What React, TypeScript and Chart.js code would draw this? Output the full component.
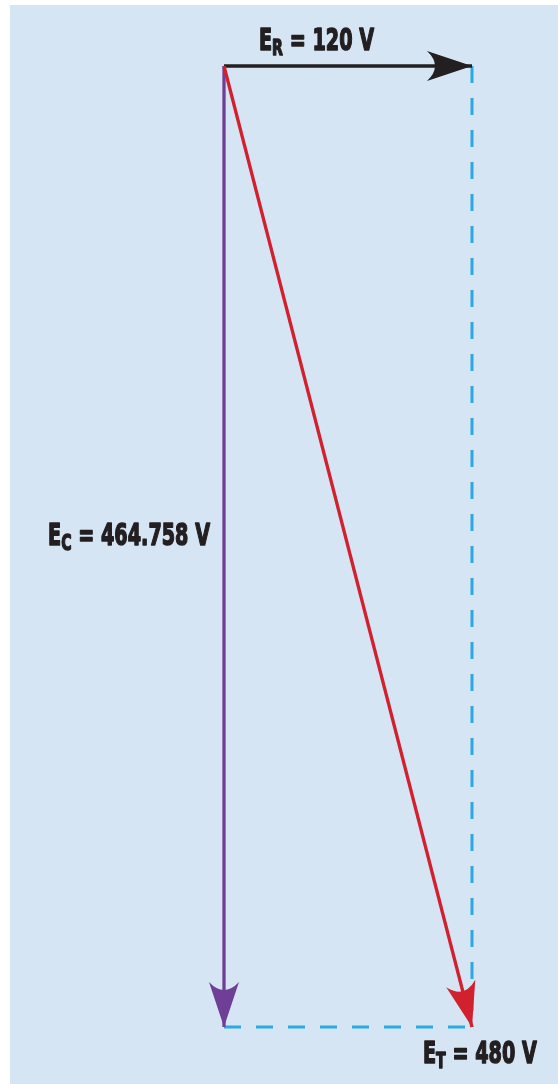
import React, { useEffect, useRef } from 'react';
import { Chart, registerables } from 'chart.js';
Chart.register(...registerables);

// Phasor values (volts)
const resistiveX = [0, 120];
const resistiveY = [0, 0];
const capacitiveX = [0, 0];
const capacitiveY = [0, -464.758];
const totalX = [0, 120];
const totalY = [0, -464.758];
const projHorizX = [0, 120];
const projHorizY = [-464.758, -464.758];
const projVertX = [120, 120];
const projVertY = [0, -464.758];

// Labels
const labelMain = ['E', 'E', 'E'];
const labelSub = ['R', 'C', 'T'];
const labelValue = [' = 120 V', ' = 464.758 V', ' = 480 V'];
const labelAnchorX = [0, 0, 120];
const labelAnchorY = [0, -232.379, -464.758];

const pts = (xs: number[], ys: number[]) => xs.map((x, i) => ({ x, y: ys[i] }));

const COLORS = {
  panel: '#d5e5f4',
  black: '#231f20',
  purple: '#6f3f98',
  red: '#d2212e',
  dash: '#29aae2',
};

const arrowPlugin = {
  id: 'arrowHeads',
  afterDatasetsDraw(chart: any) {
    const ctx = chart.ctx;
    chart.data.datasets.forEach((ds: any, i: number) => {
      if (!ds.arrowColor) return;
      const meta = chart.getDatasetMeta(i);
      const n = meta.data.length;
      const p0 = meta.data[n - 2];
      const p1 = meta.data[n - 1];
      const dx = p1.x - p0.x;
      const dy = p1.y - p0.y;
      const len = Math.hypot(dx, dy);
      const ux = dx / len, uy = dy / len;
      const nx = -uy, ny = ux;
      const L = 45, W = 15, notch = 16;
      const tx = p1.x, ty = p1.y;
      const bx = tx - L * ux, by = ty - L * uy;
      ctx.save();
      ctx.fillStyle = ds.arrowColor;
      ctx.beginPath();
      ctx.moveTo(tx, ty);
      ctx.lineTo(bx + W * nx, by + W * ny);
      ctx.quadraticCurveTo(tx - (L - notch) * ux, ty - (L - notch) * uy, bx - W * nx, by - W * ny);
      ctx.closePath();
      ctx.fill();
      ctx.restore();
    });
  },
};

const labelPlugin = {
  id: 'phasorLabels',
  afterDraw(chart: any) {
    const ctx = chart.ctx;
    const xs = chart.scales.x;
    const ys = chart.scales.y;
    const mainFont = 'bold 30px "DejaVu Sans", sans-serif';
    const subFont = 'bold 22px "DejaVu Sans", sans-serif';
    const squeeze = 0.64;
    const offsets = [
      { dx: 35, dy: -16, align: 'left' },
      { dx: -14, dy: -2, align: 'right' },
      { dx: -49, dy: 36, align: 'left' },
    ];
    labelMain.forEach((m, i) => {
      const ax = xs.getPixelForValue(labelAnchorX[i]) + offsets[i].dx;
      const ay = ys.getPixelForValue(labelAnchorY[i]) + offsets[i].dy;
      ctx.save();
      ctx.font = mainFont;
      const w1 = ctx.measureText(m).width;
      const w3 = ctx.measureText(labelValue[i]).width;
      ctx.font = subFont;
      const w2 = ctx.measureText(labelSub[i]).width;
      const total = w1 + w2 + w3;
      ctx.translate(ax, ay);
      ctx.scale(squeeze, 1);
      let x = offsets[i].align === 'right' ? -total : 0;
      ctx.fillStyle = COLORS.black;
      ctx.strokeStyle = COLORS.black;
      ctx.lineWidth = 1.6;
      ctx.lineJoin = 'round';
      ctx.textBaseline = 'alphabetic';
      ctx.textAlign = 'left';
      ctx.font = mainFont;
      ctx.fillText(m, x, 0);
      ctx.strokeText(m, x, 0);
      x += w1;
      ctx.font = subFont;
      ctx.fillText(labelSub[i], x, 5);
      ctx.strokeText(labelSub[i], x, 5);
      x += w2;
      ctx.font = mainFont;
      ctx.fillText(labelValue[i], x, 0);
      ctx.strokeText(labelValue[i], x, 0);
      ctx.restore();
    });
  },
};

export default function App() {
  const ref = useRef<HTMLCanvasElement | null>(null);
  useEffect(() => {
    if (!ref.current) return;
    const chart = new Chart(ref.current, {
      type: 'scatter',
      data: {
        datasets: [
          {
            data: pts(totalX, totalY),
            showLine: true,
            borderColor: COLORS.red,
            borderWidth: 3.3,
            pointRadius: 0,
            arrowColor: COLORS.red,
          } as any,
          {
            data: pts(resistiveX, resistiveY),
            showLine: true,
            borderColor: COLORS.black,
            borderWidth: 3.3,
            pointRadius: 0,
            arrowColor: COLORS.black,
          } as any,
          {
            data: pts(capacitiveX, capacitiveY),
            showLine: true,
            borderColor: COLORS.purple,
            borderWidth: 3.3,
            pointRadius: 0,
            arrowColor: COLORS.purple,
          } as any,
          {
            data: pts(projHorizX, projHorizY),
            showLine: true,
            borderColor: COLORS.dash,
            borderWidth: 3,
            borderDash: [17, 15],
            pointRadius: 0,
          },
          {
            data: pts(projVertX, projVertY),
            showLine: true,
            borderColor: COLORS.dash,
            borderWidth: 3,
            borderDash: [17, 15],
            pointRadius: 0,
          },
        ],
      },
      options: {
        animation: false,
        responsive: false,
        maintainAspectRatio: false,
        devicePixelRatio: 1,
        layout: { padding: 0 },
        plugins: { legend: { display: false }, tooltip: { enabled: false }, title: { display: false } },
        events: [],
        scales: {
          x: { type: 'linear', display: false, min: -108.387, max: 161.613 },
          y: { type: 'linear', display: false, min: -492.32, max: 31.92 },
        },
      },
      plugins: [arrowPlugin, labelPlugin],
    });
    return () => chart.destroy();
  }, []);
  return (
    <div style={{ position: 'absolute', left: 0, top: 0, width: 558, height: 1084, background: '#ffffff', overflow: 'hidden' }}>
      <div style={{ position: 'absolute', left: 10, top: 5, width: 548, height: 1079, background: COLORS.panel }} />
      <canvas ref={ref} width={558} height={1084} style={{ position: 'absolute', left: 0, top: 0, width: 558, height: 1084 }} />
    </div>
  );
}
